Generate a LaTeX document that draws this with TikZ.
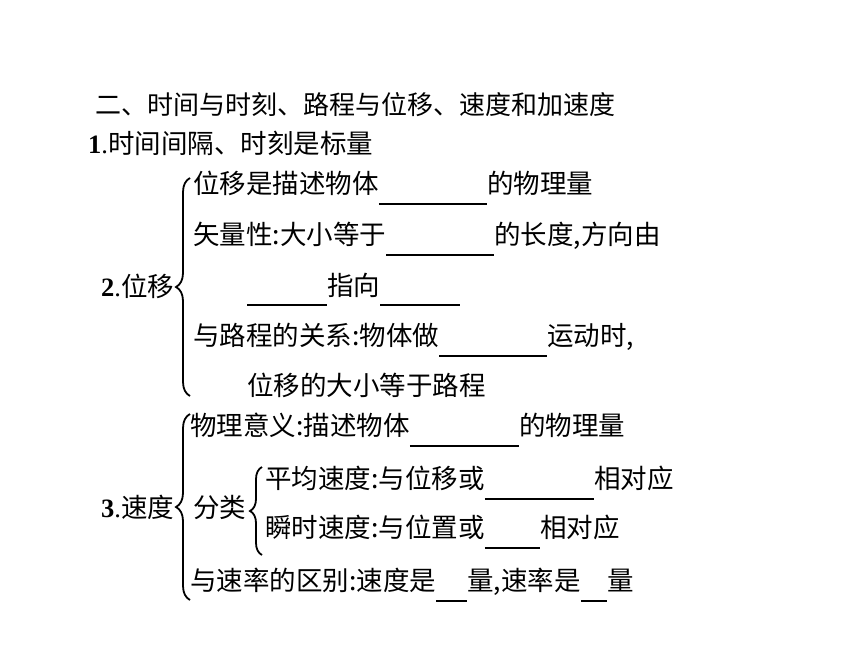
\documentclass[tikz,border=0pt]{standalone}
\usepackage{fontspec}
\usepackage{tikz}
\setmainfont{Liberation Serif}
\newfontfamily\cjk{Noto Sans CJK SC}
\usetikzlibrary{decorations.pathreplacing}
\newcommand{\numb}[1]{{\rmfamily\textbf{#1}.}}

\begin{document}
\begin{tikzpicture}[x=1pt,y=-1pt,
  txt/.style={inner sep=0pt,anchor=west,text height=23.3pt,text depth=3.2pt,
    font=\cjk\fontsize{26.5}{30}\selectfont},
  blank/.style={line width=1.8pt},
  brc/.style={line width=1.8pt,decorate,decoration={brace,amplitude=#1}}]
\useasboundingbox[fill=white] (0,0) rectangle (860,645);
%%heading
\node[txt,font=\cjk\fontsize{26}{30}\selectfont] (head) at (95,104) {二、时间与时刻、路程与位移、速度和加速度};
\node[txt] (one) at (88,143) {\numb{1}时间间隔、时刻是标量};
%%displacement
\node[txt] (two) at (101,286) {\numb{2}位移};
\draw[brc=14pt] (190,396) -- (190,178);
\node[txt] (a1) at (193,183) {位移是描述物体};
\node[txt] (a2) at (487,183) {的物理量};
\node[txt] (b1) at (193,234) {矢量性:大小等于};
\node[txt] (b2) at (494,234) {的长度,方向由};
\node[txt] (c1) at (327,285) {指向};
\node[txt] (d1) at (193,335) {与路程的关系:物体做};
\node[txt] (d2) at (547,335) {运动时,};
\node[txt] (e1) at (247,385) {位移的大小等于路程};
%%velocity
\node[txt] (three) at (101,507) {\numb{3}速度};
\draw[brc=14pt] (190,600) -- (190,414);
\node[txt] (f1) at (190,425) {物理意义:描述物体};
\node[txt] (f2) at (519,425) {的物理量};
\node[txt] (kind) at (193,507) {分类};
\draw[brc=12pt] (262,555) -- (262,467);
\node[txt] (h1) at (265,478) {平均速度:与位移或};
\node[txt] (h2) at (594,478) {相对应};
\node[txt] (i1) at (265,527) {瞬时速度:与位置或};
\node[txt] (i2) at (540,527) {相对应};
\node[txt] (j1) at (190,580) {与速率的区别:速度是};
\node[txt] (j2) at (467,580) {量,速率是};
\node[txt] (j3) at (607,580) {量};
%%blanks
\foreach \p/\q in {a1/a2,b1/b2,d1/d2,f1/f2,h1/h2,i1/i2,j1/j2,j2/j3}
{\draw[blank] ([yshift=-21pt]\p.east) -- ([yshift=-21pt]\q.west);
}
\draw[blank] ([shift={(-80pt,-20pt)}]c1.west) -- ([yshift=-20pt]c1.west);
\draw[blank] ([yshift=-20pt]c1.east) -- ([shift={(80pt,-20pt)}]c1.east);
\end{tikzpicture}
\end{document}
